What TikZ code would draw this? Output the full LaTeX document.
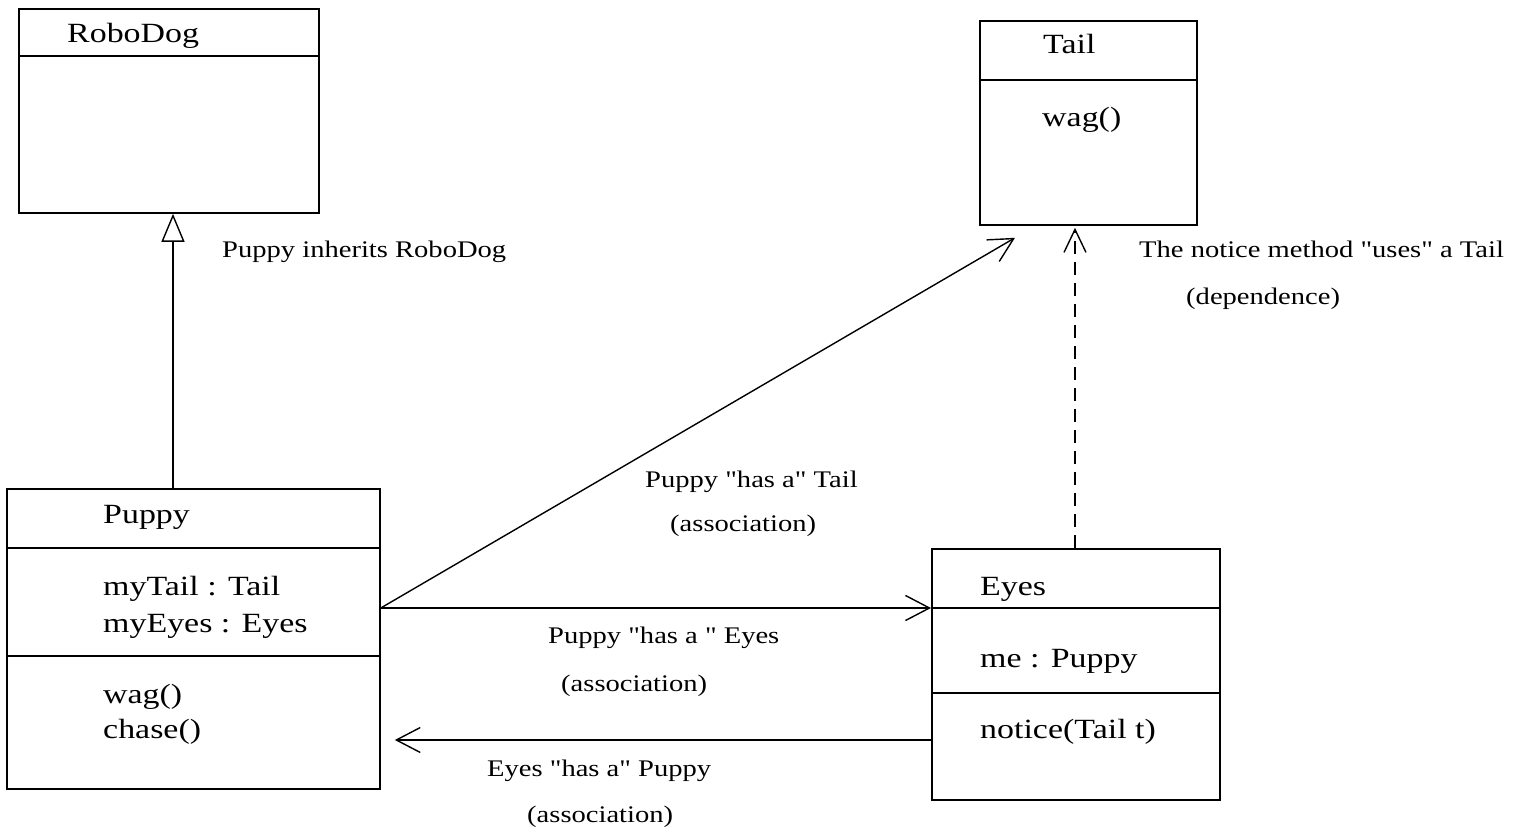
\documentclass[tikz,border=0pt]{standalone}
\usepackage{fontspec}
\setmainfont{Liberation Serif}
\newfontfamily\umlfont[FakeStretch=1.22]{Liberation Serif}
\newfontfamily\lblfont[FakeStretch=1.2]{Liberation Serif}
\usetikzlibrary{arrows.meta,calc}
\begin{document}
\begin{tikzpicture}[x=1pt,y=-1pt,
  umlbox/.style={draw=black, line width=1.8pt, rectangle, inner sep=0pt, anchor=north west, fill=none},
  divline/.style={draw=black, line width=1.6pt},
  boxtext/.style={anchor=base west, inner sep=0pt, font=\umlfont\fontsize{27.8}{30}\selectfont},
  labeltext/.style={anchor=base west, inner sep=0pt, font=\lblfont\fontsize{23.8}{28}\selectfont},
  assoc/.style={draw=black, line width=1.4pt, -{Straight Barb[length=24pt,width=25pt,line width=1.4pt]}},
  depend/.style={draw=black, line width=1.4pt, dash pattern=on 13pt off 8pt, -{Straight Barb[length=23pt,width=22pt,line width=1.4pt]}},
  inherit/.style={draw=black, line width=1.4pt, -{Triangle[open,length=28pt,width=23pt,line width=1.4pt,fill=white]}}
]
\useasboundingbox[fill=white] (0,0) rectangle (1524,829);

% RoboDog
\node[umlbox, minimum width=300pt, minimum height=204pt] (robodog) at (18,8) {};
\draw[divline] (18,56) -- (318,56);
\node[boxtext] (robodogname) at (67,43) {RoboDog};

% Tail
\node[umlbox, minimum width=217pt, minimum height=204pt] (tail) at (979,20) {};
\draw[divline] (979,80) -- (1196,80);
\node[boxtext] (tailname) at (1043,54) {Tail};
\node[boxtext] (tailwag) at (1042,127) {wag()};

% Puppy
\node[umlbox, minimum width=373pt, minimum height=300pt] (puppy) at (6,488) {};
\draw[divline] (6,548) -- (379,548);
\draw[divline] (6,656) -- (379,656);
\node[boxtext] (puppyname) at (103,523) {Puppy};
\node[boxtext] (mytail) at (103,595) {myTail : Tail};
\node[boxtext] (myeyes) at (103,632) {myEyes : Eyes};
\node[boxtext] (puppywag) at (103,703) {wag()};
\node[boxtext] (puppychase) at (103,738) {chase()};

% Eyes
\node[umlbox, minimum width=288pt, minimum height=251pt] (eyes) at (931,548) {};
\draw[divline] (931,608) -- (1219,608);
\draw[divline] (931,693) -- (1219,693);
\node[boxtext] (eyesname) at (980,595) {Eyes};
\node[boxtext] (eyesme) at (980,667) {me : Puppy};
\node[boxtext] (eyesnotice) at (980,738) {notice(Tail t)};

% Connectors
\draw[inherit] ($(puppy.north west)+(167,0)$) -- ($(robodog.south west)+(155,0)$);
\draw[assoc] ($(puppy.north east)+(0,120)$) -- ($(tail.south west)+(36,12)$);
\draw[assoc] ($(puppy.north east)+(0,120)$) -- ($(eyes.north west)+(0,60)$);
\draw[assoc] ($(eyes.north west)+(0,192)$) -- ($(puppy.north east)+(14,252)$);
\draw[depend] ($(eyes.north west)+(144,0)$) -- ($(tail.south west)+(96,2)$);

% Labels
\node[labeltext] (lblinherit) at (222,258) {Puppy inherits RoboDog};
\node[labeltext] (lbluses) at (1139,258) {The notice method "uses" a Tail};
\node[labeltext] (lbldep) at (1186,305) {(dependence)};
\node[labeltext] (lbltail) at (645,487) {Puppy "has a" Tail};
\node[labeltext] (lbltailassoc) at (670,531) {(association)};
\node[labeltext] (lbleyes) at (548,643) {Puppy "has a " Eyes};
\node[labeltext] (lbleyesassoc) at (561,691) {(association)};
\node[labeltext] (lblpuppy) at (487,776) {Eyes "has a" Puppy};
\node[labeltext] (lblpuppyassoc) at (527,822) {(association)};
\end{tikzpicture}
\end{document}
